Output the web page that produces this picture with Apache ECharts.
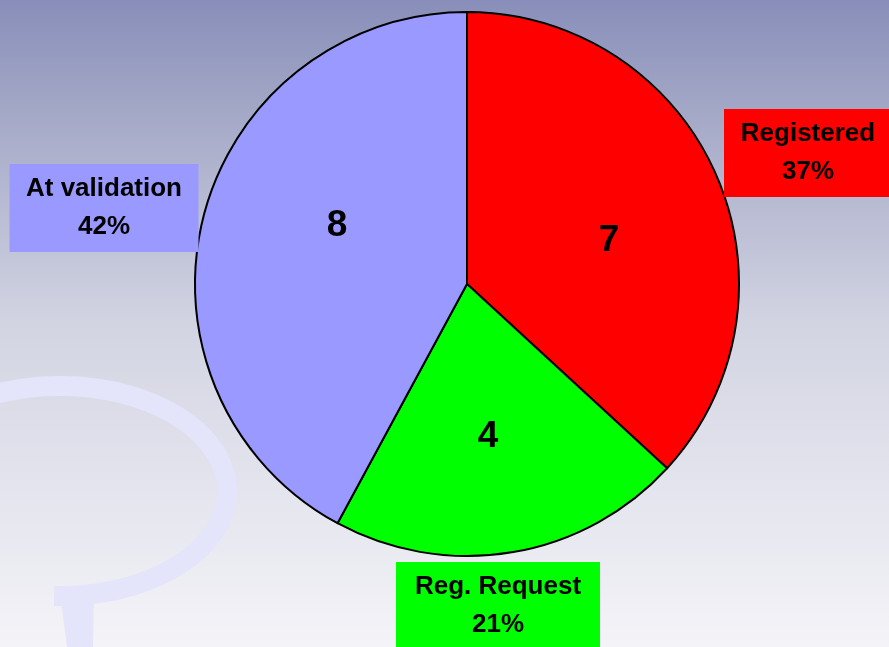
<!DOCTYPE html>
<html>
<head>
<meta charset="utf-8">
<script src="https://cdn.jsdelivr.net/npm/echarts@6/dist/echarts.min.js"></script>
<style>
  html, body { margin: 0; padding: 0; }
  #chart { width: 889px; height: 647px; }
</style>
</head>
<body>
<div id="chart"></div>
<script>
// data
var names = ['Registered', 'Reg. Request', 'At validation'];
var values = [7, 4, 8];
var colors = ['#ff0000', '#00ff00', '#9999ff'];

// label placement (centres of the value numbers and of the boxes)
var innerPos = [[609, 241], [488, 437], [337, 226]];
var outerPos = [[808, 153], [498, 606], [104, 208]];
var boxWidth = [156, 192, 177];

// faint speech bubble outline in the background (decoration only)
var bubble = [];
for (var t = 92; t >= -190; t -= 2) {
  var a = t * Math.PI / 180;
  bubble.push([60 + 167 * Math.cos(a), 491 + 105 * Math.sin(a)]);
}

var chart = echarts.init(document.getElementById('chart'));

var option = {
  backgroundColor: {
    type: 'linear', x: 0, y: 0, x2: 0, y2: 1,
    colorStops: [
      { offset: 0, color: '#888eb9' },
      { offset: 0.15, color: '#a0a5c5' },
      { offset: 0.5, color: '#d2d4e2' },
      { offset: 1, color: '#f4f4f8' }
    ]
  },
  graphic: [
    {
      type: 'polyline', z: 0,
      shape: { points: bubble },
      style: { fill: null, stroke: '#e4e4fa', lineWidth: 20 }
    },
    {
      type: 'polygon', z: 0,
      shape: { points: [[60, 592], [94, 592], [93, 647], [67, 647]] },
      style: { fill: '#e4e4fa' }
    }
  ],
  series: [
    {
      type: 'pie',
      center: [467, 284],
      radius: 272,
      startAngle: 90,
      clockwise: true,
      animation: false,
      silent: true,
      percentPrecision: 0,
      itemStyle: { borderColor: '#000', borderWidth: 2 },
      label: {
        show: true,
        position: 'inside',
        formatter: '{c}',
        fontFamily: 'Liberation Sans',
        fontWeight: 'bold',
        fontSize: 37,
        color: '#000'
      },
      labelLine: { show: false },
      labelLayout: function (p) {
        var q = innerPos[p.dataIndex];
        return { x: q[0], y: q[1], align: 'center', verticalAlign: 'middle' };
      },
      data: names.map(function (n, i) {
        return { name: n, value: values[i], itemStyle: { color: colors[i] } };
      })
    },
    {
      type: 'pie',
      center: [467, 284],
      radius: 272,
      startAngle: 90,
      clockwise: true,
      animation: false,
      silent: true,
      percentPrecision: 0,
      itemStyle: { color: 'rgba(0,0,0,0)', borderWidth: 0 },
      label: {
        show: true,
        position: 'outside',
        formatter: '{b}\n{d}%',
        fontFamily: 'Liberation Sans',
        fontWeight: 'bold',
        fontSize: 26,
        lineHeight: 38,
        color: '#000',
        align: 'center',
        padding: [6, 6]
      },
      labelLine: { show: false },
      labelLayout: function (p) {
        var q = outerPos[p.dataIndex];
        return { x: q[0], y: q[1], align: 'center', verticalAlign: 'middle' };
      },
      data: names.map(function (n, i) {
        return {
          name: n, value: values[i],
          label: { backgroundColor: colors[i], width: boxWidth[i] }
        };
      })
    }
  ]
};

chart.setOption(option);
</script>
</body>
</html>
